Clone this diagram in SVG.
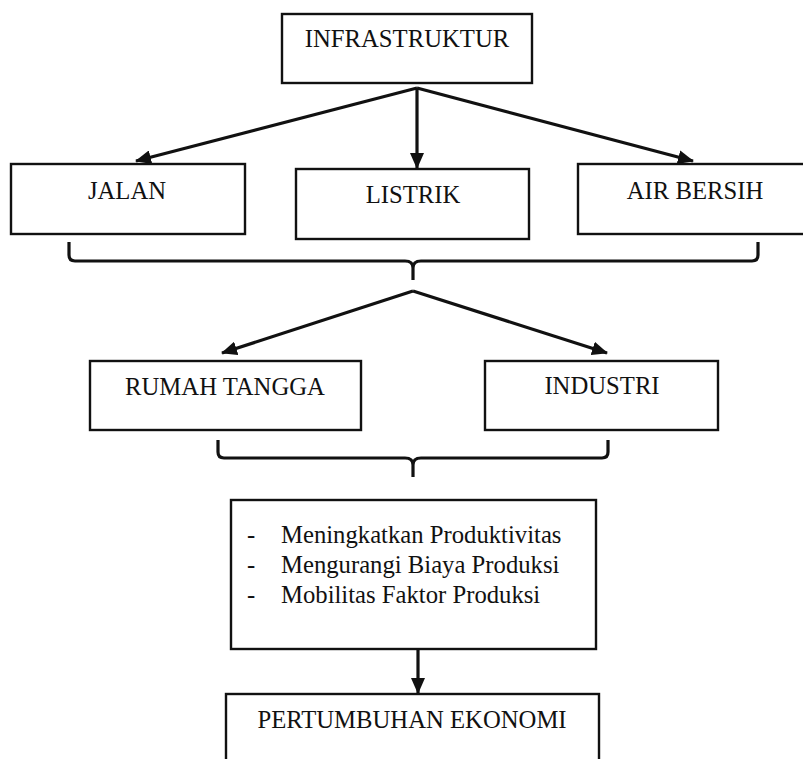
<svg xmlns="http://www.w3.org/2000/svg" width="803" height="759" viewBox="0 0 803 759">
<style>
.box{fill:#fff;stroke:#111;stroke-width:2.4}
.t{font-size:24.7px;fill:#111}
.c{text-anchor:middle}
.ln{fill:none;stroke:#111;stroke-width:3.2}
</style>
<defs>
<marker id="ah" markerUnits="userSpaceOnUse" markerWidth="16" markerHeight="14" refX="15" refY="7" orient="auto">
<path d="M0,0 L16,7 L0,14 Z" fill="#111"/>
</marker>
</defs>
<rect width="803" height="759" fill="#fff"/>
<g id="connectors">
<line class="ln" x1="417" y1="88" x2="136" y2="161" marker-end="url(#ah)"/>
<line class="ln" x1="417" y1="88" x2="417" y2="168" marker-end="url(#ah)"/>
<line class="ln" x1="417" y1="88" x2="693" y2="161" marker-end="url(#ah)"/>
<path class="ln" d="M69,242 V255 Q69,261 75,261 H405 Q413,261 413,268 V280 M413,268 Q413,261 421,261 H752 Q758,261 758,255 V242"/>
<line class="ln" x1="413" y1="291" x2="222" y2="353" marker-end="url(#ah)"/>
<line class="ln" x1="413" y1="291" x2="607" y2="353" marker-end="url(#ah)"/>
<path class="ln" d="M218,440 V452 Q218,458 224,458 H405 Q413,458 413,465 V477 M413,465 Q413,458 421,458 H602 Q608,458 608,452 V440"/>
<line class="ln" x1="418" y1="649" x2="418" y2="693" marker-end="url(#ah)"/>
</g>
<g font-family="'Liberation Serif', 'Times New Roman', 'DejaVu Serif', serif">
<g id="infrastruktur">
<rect class="box" x="282" y="14" width="250" height="69"/>
<text class="t c" x="407" y="47">INFRASTRUKTUR</text>
</g>
<g id="jalan">
<rect class="box" x="11" y="164" width="234" height="70"/>
<text class="t c" x="127" y="199">JALAN</text>
</g>
<g id="listrik">
<rect class="box" x="296" y="169" width="233" height="70"/>
<text class="t c" x="413" y="203">LISTRIK</text>
</g>
<g id="air-bersih">
<rect class="box" x="578" y="164" width="240" height="70"/>
<text class="t c" x="695" y="199">AIR BERSIH</text>
</g>
<g id="rumah-tangga">
<rect class="box" x="90" y="361" width="271" height="69"/>
<text class="t c" x="225" y="395">RUMAH TANGGA</text>
</g>
<g id="industri">
<rect class="box" x="485" y="361" width="233" height="69"/>
<text class="t c" x="602" y="394">INDUSTRI</text>
</g>
<g id="dampak">
<rect class="box" x="231" y="500" width="365" height="149"/>
<text class="t" x="247" y="543">-</text>
<text class="t" x="281" y="543">Meningkatkan Produktivitas</text>
<text class="t" x="247" y="573">-</text>
<text class="t" x="281" y="573">Mengurangi Biaya Produksi</text>
<text class="t" x="247" y="603">-</text>
<text class="t" x="281" y="603">Mobilitas Faktor Produksi</text>
</g>
<g id="pertumbuhan">
<rect class="box" x="226" y="694" width="373" height="80"/>
<text class="t c" x="412" y="728">PERTUMBUHAN EKONOMI</text>
</g>
</g>
</svg>
